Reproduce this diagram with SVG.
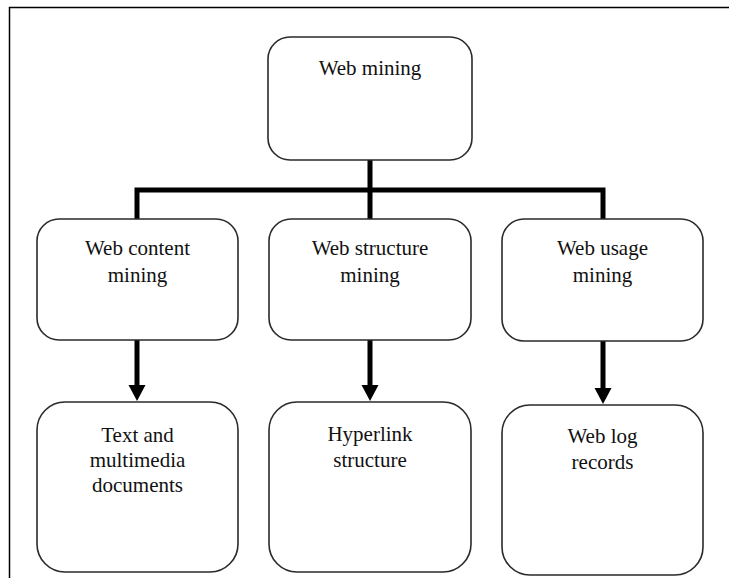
<svg xmlns="http://www.w3.org/2000/svg" width="729" height="578" viewBox="0 0 729 578">
<style>
.box{fill:#fff;stroke:#2a2a2a;stroke-width:1.6}
.t{font-family:"Liberation Serif","Times New Roman",serif;font-size:21px;fill:#111;text-anchor:middle}
.c{stroke:#000;stroke-width:5;fill:none}
.h{fill:#000}
</style>
<rect width="729" height="578" fill="#fff"/>
<path d="M9.5,578 V7.5 H729" fill="none" stroke="#000" stroke-width="1.5"/>
<g id="connectors">
<path class="c" d="M370,160 V190 M134.5,190 H605.5 M137,190 V219 M370,190 V219 M603,190 V219"/>
<path class="c" d="M137,340 V387 M370,340 V387 M603,341 V389"/>
<polygon class="h" points="128.5,385 145.5,385 137,401"/>
<polygon class="h" points="361.5,385 378.5,385 370,401"/>
<polygon class="h" points="594.5,388 611.5,388 603,404"/>
</g>
<g id="web-mining">
<rect class="box" x="268" y="37" width="204" height="123" rx="22"/>
<text class="t" x="370" y="75">Web mining</text>
</g>
<g id="web-content-mining">
<rect class="box" x="37" y="219" width="201" height="121" rx="22"/>
<text class="t" x="137.5" y="255">Web content</text>
<text class="t" x="137.5" y="282">mining</text>
</g>
<g id="web-structure-mining">
<rect class="box" x="269" y="219" width="202" height="121" rx="22"/>
<text class="t" x="370" y="255">Web structure</text>
<text class="t" x="370" y="282">mining</text>
</g>
<g id="web-usage-mining">
<rect class="box" x="502" y="219" width="201" height="122" rx="22"/>
<text class="t" x="602.5" y="255">Web usage</text>
<text class="t" x="602.5" y="282">mining</text>
</g>
<g id="text-multimedia">
<rect class="box" x="37" y="402" width="201" height="170" rx="28"/>
<text class="t" x="137.5" y="442">Text and</text>
<text class="t" x="137.5" y="467">multimedia</text>
<text class="t" x="137.5" y="492">documents</text>
</g>
<g id="hyperlink-structure">
<rect class="box" x="269" y="402" width="202" height="170" rx="28"/>
<text class="t" x="370" y="441">Hyperlink</text>
<text class="t" x="370" y="467">structure</text>
</g>
<g id="web-log-records">
<rect class="box" x="502" y="405" width="201" height="170" rx="28"/>
<text class="t" x="602.5" y="443">Web log</text>
<text class="t" x="602.5" y="469">records</text>
</g>
</svg>
